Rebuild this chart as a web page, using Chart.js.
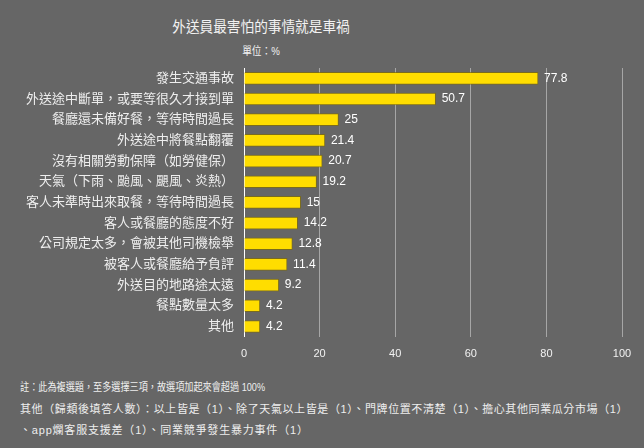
<!DOCTYPE html>
<html>
<head>
<meta charset="utf-8">
<script src="https://cdn.jsdelivr.net/npm/chart.js@4"></script>
<style>
  html, body { margin: 0; padding: 0; background: #666666; }
  body { width: 644px; height: 448px; position: relative; overflow: hidden;
         font-family: "Liberation Sans", "Noto Sans CJK TC", sans-serif; color: #f2f2f2; }
  #title { position: absolute; left: 0; width: 522px; top: 15px; text-align: center; font-size: 15px;
           transform: scaleX(0.91); transform-origin: 261px 0; }
  #unit { position: absolute; left: 0; width: 522px; top: 42px; text-align: center; font-size: 11px;
          transform: scaleX(0.88); transform-origin: 261px 0; }
  #wrap { position: absolute; left: 0; top: 0; width: 644px; height: 372px; }
  .note { position: absolute; left: 20px; font-size: 11px; white-space: nowrap; color: #eeeeee; transform-origin: 0 0; }
</style>
</head>
<body>
<div id="title">外送員最害怕的事情就是車禍</div>
<div id="unit">單位：%</div>
<div id="wrap"><canvas id="myChart"></canvas></div>
<div class="note" style="top:378px; transform:scaleX(0.83)">註：此為複選題，至多選擇三項，故選項加起來會超過 100%</div>
<div class="note" style="top:400px; letter-spacing:0.6px">其他（歸類後填答人數）：以上皆是（1）、除了天氣以上皆是（1）、門牌位置不清楚（1）、擔心其他同業瓜分市場（1）</div>
<div class="note" style="top:421px; letter-spacing:0.8px">、app爛客服支援差（1）、同業競爭發生暴力事件（1）</div>
<script>
// categories and values (%)
const labels = [
    '發生交通事故',
    '外送途中斷單，或要等很久才接到單',
    '餐廳還未備好餐，等待時間過長',
    '外送途中將餐點翻覆',
    '沒有相關勞動保障（如勞健保）',
    '天氣（下雨、颱風、颶風、炎熱）',
    '客人未準時出來取餐，等待時間過長',
    '客人或餐廳的態度不好',
    '公司規定太多，會被其他司機檢舉',
    '被客人或餐廳給予負評',
    '外送目的地路途太遠',
    '餐點數量太多',
    '其他'
];
const values = [77.8, 50.7, 25, 21.4, 20.7, 19.2, 15, 14.2, 12.8, 11.4, 9.2, 4.2, 4.2];

const fontStack = '"Liberation Sans", "Noto Sans CJK TC", sans-serif';

// value text at the end of each bar
const valueLabels = {
    id: 'valueLabels',
    afterDatasetsDraw(chart) {
        const ctx = chart.ctx;
        const meta = chart.getDatasetMeta(0);
        ctx.save();
        ctx.fillStyle = '#ffffff';
        ctx.font = '12px ' + fontStack;
        ctx.textAlign = 'left';
        ctx.textBaseline = 'middle';
        meta.data.forEach((bar, i) => {
            ctx.fillText(String(values[i]), bar.x + 6, bar.y);
        });
        ctx.restore();
    }
};

const data = {
    labels: labels,
    datasets: [{
        data: values,
        backgroundColor: '#ffdd00',
        borderColor: 'rgba(130,110,0,0.7)',
        borderWidth: 1,
        barThickness: 12
    }]
};

const config = {
    type: 'bar',
    data: data,
    options: {
        indexAxis: 'y',
        responsive: true,
        maintainAspectRatio: false,
        animation: false,
        layout: { padding: { top: 68, right: 22, left: 0, bottom: 0 } },
        plugins: {
            legend: { display: false },
            tooltip: { enabled: false }
        },
        scales: {
            x: {
                min: 0,
                max: 100,
                ticks: {
                    stepSize: 20,
                    color: '#f2f2f2',
                    font: { size: 11, family: fontStack },
                    padding: 11
                },
                grid: {
                    color: (c) => c.tick && c.tick.value === 0 ? '#ffffff' : '#a6a6a6',
                    drawTicks: false
                },
                border: { display: false }
            },
            y: {
                afterFit(scale) { scale.width = 244; },
                ticks: {
                    color: '#eeeeee',
                    font: { size: 13, family: fontStack },
                    padding: 10
                },
                grid: { display: false, drawTicks: false },
                border: { color: '#ffffff' }
            }
        }
    },
    plugins: [valueLabels]
};

const ctx = document.getElementById('myChart').getContext('2d');
new Chart(ctx, config);
</script>
</body>
</html>
